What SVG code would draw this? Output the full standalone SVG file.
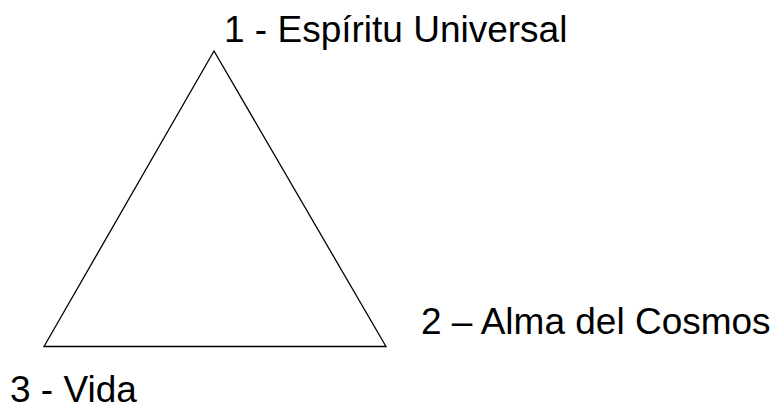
<svg xmlns="http://www.w3.org/2000/svg" width="778" height="405" viewBox="0 0 778 405">
<style>
.lbl{font-family:"Liberation Sans",Arial,sans-serif;font-size:37px;fill:#000}
.tri{fill:none;stroke:#000;stroke-width:1.3}
</style>
<rect width="778" height="405" fill="#fff"/>
<g id="triangle"><polygon class="tri" points="214,51 44,346.5 386,346.5"/></g>
<g id="connectors"/>
<g id="node1"><text class="lbl" x="224" y="42">1 - Espíritu Universal</text></g>
<g id="node2"><text class="lbl" x="421" y="334">2 – Alma del Cosmos</text></g>
<g id="node3"><text class="lbl" x="10" y="402">3 - Vida</text></g>
</svg>
